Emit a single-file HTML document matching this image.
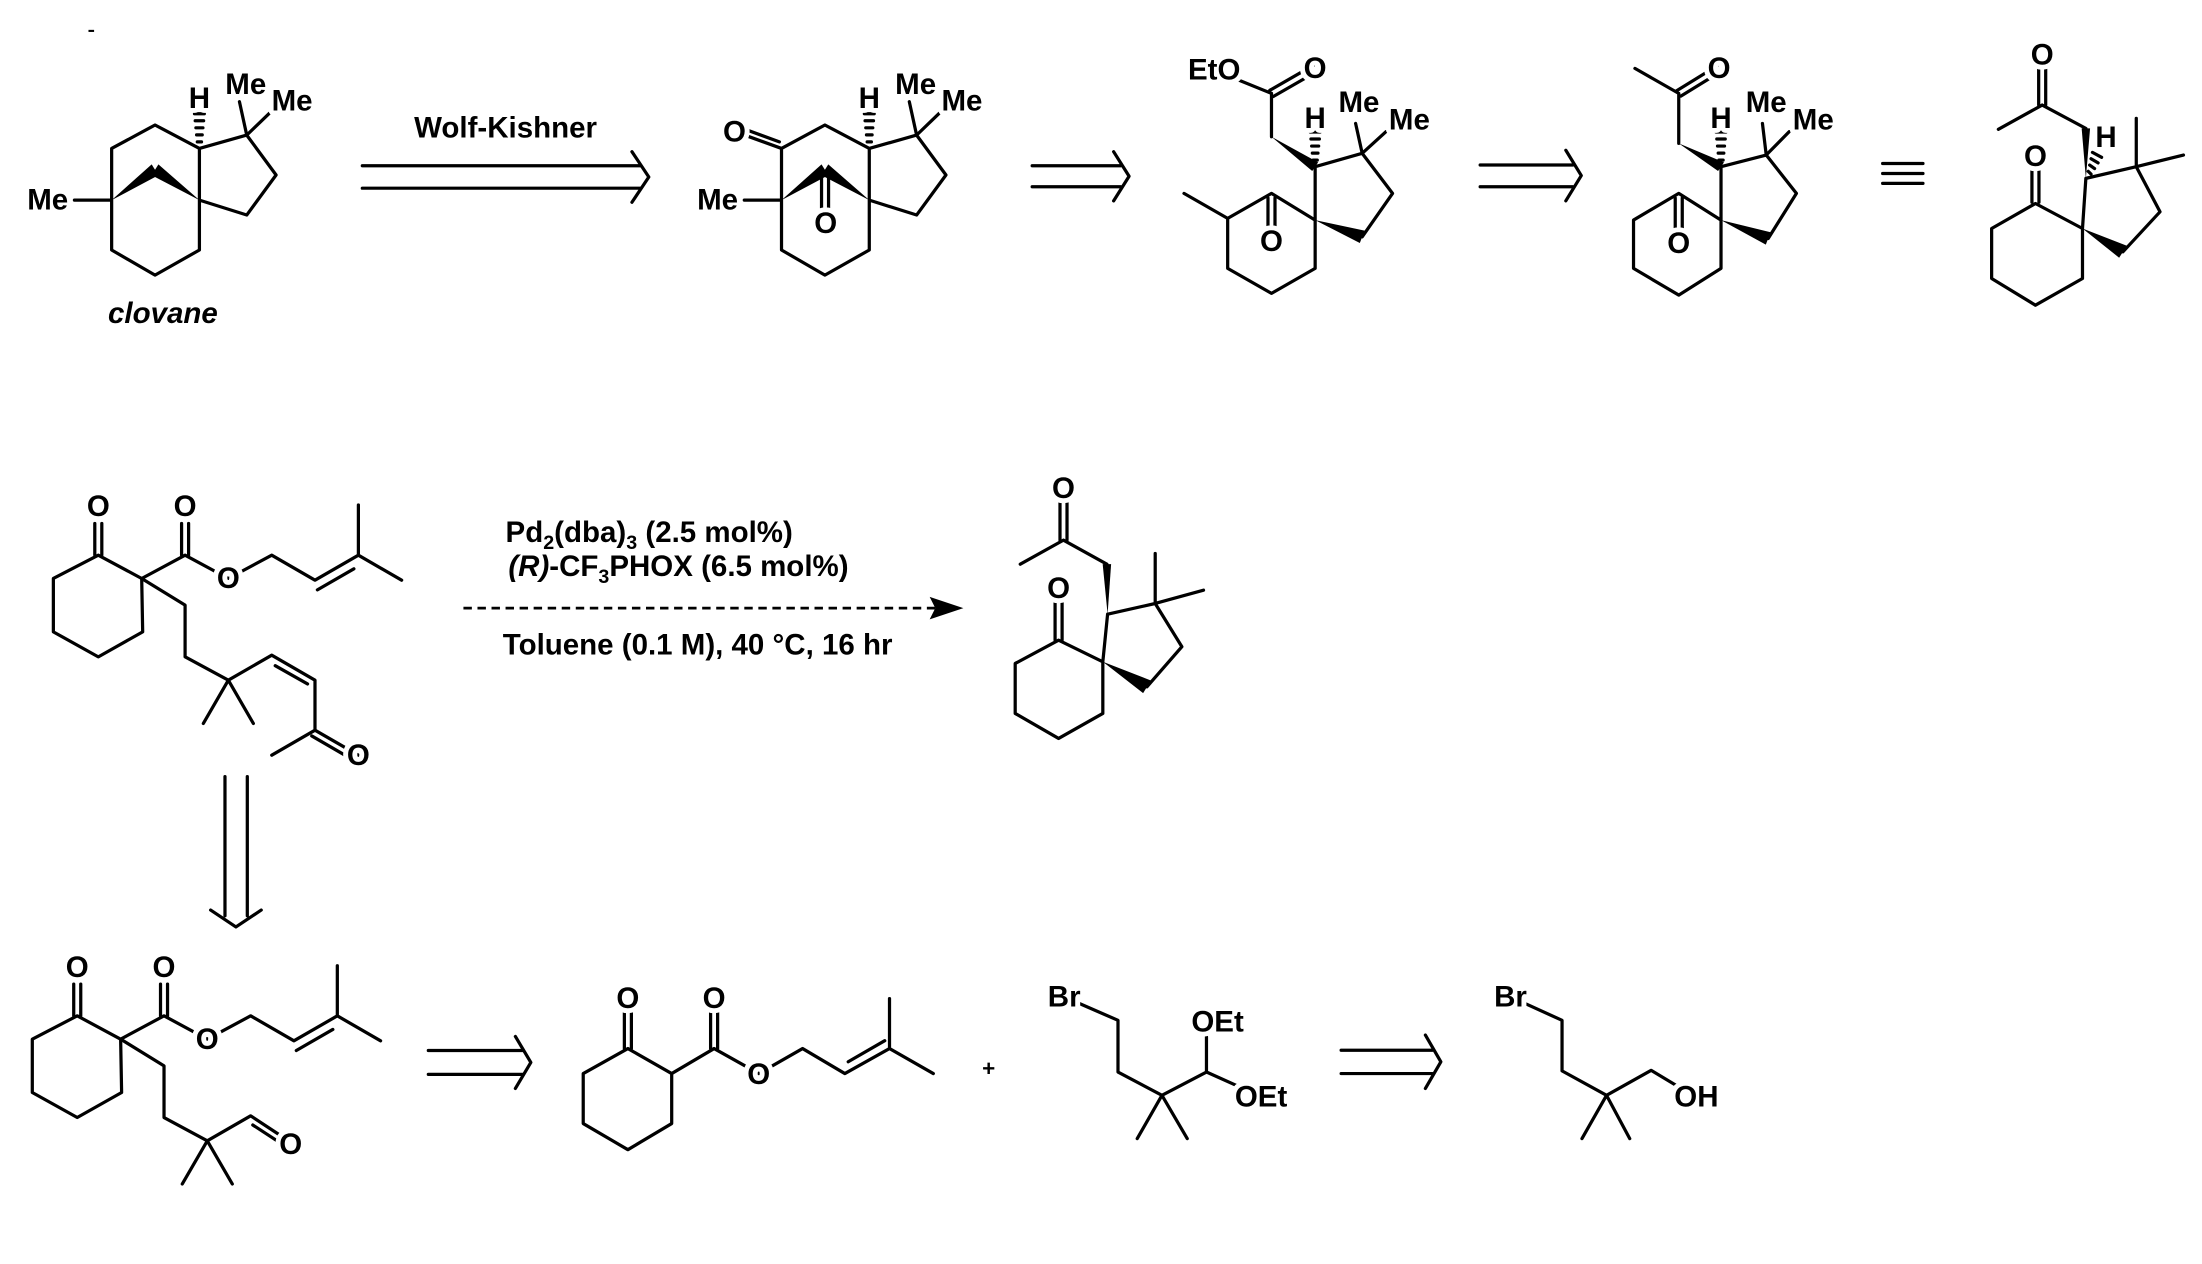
<!DOCTYPE html>
<html><head><meta charset="utf-8"><style>
html,body{margin:0;padding:0;background:#fff;}
svg{display:block;}
.b{stroke:#000;stroke-width:2.3;fill:none;stroke-linecap:round;stroke-linejoin:round;}
.w{fill:#000;stroke:none;}
text{font-family:"Liberation Sans",Arial,sans-serif;font-weight:bold;fill:#000;}
.a{font-size:21px;text-anchor:middle;dominant-baseline:central;stroke:#fff;stroke-width:7px;paint-order:stroke;stroke-linejoin:round;}
.c{font-size:21px;}
</style></head><body>
<svg width="2202" height="1264" viewBox="0 0 1568 900" preserveAspectRatio="none" xmlns="http://www.w3.org/2000/svg">
<rect width="1568" height="900" fill="#fff"/>
<line x1="63" y1="22" x2="67" y2="22" stroke="#000" stroke-width="1.5"/>

<g id="clov">
<path class="b" d="M53,142.5 L79.5,142.5 M79.5,142.5 L79.5,105.7 L110.4,89 L142,105.7 L142,178 L110.4,195.9 L79.5,178 Z M142,105.7 L175.7,96.2 L196.6,124.6 L175.7,153.1 L142,142.5 M175.7,96.2 L170.5,72.4 M175.7,96.2 L191.8,80.7"/>
<polygon class="w" points="79.5,142.5 108,117 112.8,124.8"/>
<polygon class="w" points="142,142.5 112.8,117 108,124.8"/>
<path class="b" stroke-width="1.6" d="M140.5,101 L143.5,101 M140,96 L144,96 M139.5,91 L144.5,91 M139,86 L145,86 M138.5,81 L145.5,81"/>
<text class="a" x="142" y="70">H</text>
<text class="a" x="175" y="60">Me</text>
<text class="a" x="208" y="72">Me</text>
<text class="a" x="34" y="142.5">Me</text>
</g>
<text x="116" y="230" text-anchor="middle" font-size="21" font-style="italic">clovane</text>

<text class="c" x="360" y="98" text-anchor="middle">Wolf-Kishner</text>
<path class="b" d="M258,118 L456,118 M258,134 L456,134 M450,108 L462,126 L450,144"/>

<g transform="translate(477,0)">
<path class="b" d="M53,142.5 L79.5,142.5 M79.5,142.5 L79.5,105.7 L110.4,89 L142,105.7 L142,178 L110.4,195.9 L79.5,178 Z M142,105.7 L175.7,96.2 L196.6,124.6 L175.7,153.1 L142,142.5 M175.7,96.2 L170.5,72.4 M175.7,96.2 L191.8,80.7"/>
<polygon class="w" points="79.5,142.5 108,117 112.8,124.8"/>
<polygon class="w" points="142,142.5 112.8,117 108,124.8"/>
<path class="b" stroke-width="1.6" d="M140.5,101 L143.5,101 M140,96 L144,96 M139.5,91 L144.5,91 M139,86 L145,86 M138.5,81 L145.5,81"/>
<path class="b" d="M79.5,105.7 L50,95 M78,101 L52,91.5 M108,124 L108,150 M113,124 L113,150"/>
<text class="a" x="46" y="94">O</text>
<text class="a" x="111" y="159">O</text>
<text class="a" x="142" y="70">H</text>
<text class="a" x="175" y="60">Me</text>
<text class="a" x="208" y="72">Me</text>
<text class="a" x="34" y="142.5">Me</text>
</g>

<path class="b" d="M735,118 L798,118 M735,133 L798,133 M793,108 L804,125.5 L793,143"/>

<path class="b" d="M864.6,49.9 L905.4,66.5 M904.2,64.3 L935.2,46.5 M906.7,68.7 L937.7,50.9 M905.4,66.5 L905.4,97.4 M936.5,118.7 L970,109.2 L991.6,137.7 L970,168.6 M970,109.2 L965.3,87.9 M970,109.2 L986.9,93.8 M936.5,118.7 L936.5,156.7 L905.4,137.7 L874.2,155.5 L874.2,191.1 L905.4,208.9 L936.5,191.1 L936.5,156.7 M874.2,155.5 L843.1,137.7 M902.9,141 L902.9,163 M907.9,141 L907.9,163"/>
<polygon class="w" points="905.4,97.4 938.6,115.6 934.4,121.8"/>
<polygon class="w" points="936.5,156.7 971.7,164.2 968.3,173"/>
<path class="b" stroke-width="1.6" d="M935,114 L938,114 M934.5,109 L938.5,109 M934,104 L939,104 M933.5,99 L939.5,99 M933,94 L940,94"/>
<text class="a" x="864.6" y="49.9">EtO</text>
<text class="a" x="936.5" y="48.7">O</text>
<text class="a" x="936.5" y="84.3">H</text>
<text class="a" x="967.7" y="73">Me</text>
<text class="a" x="1003.6" y="85.5">Me</text>
<text class="a" x="905.4" y="172">O</text>

<path class="b" d="M1054,117.5 L1120,117.5 M1054,133 L1120,133 M1115,107 L1126,125 L1115,143"/>

<path class="b" d="M1164.2,48.7 L1195.4,66.5 M1193.9,64.6 L1222.5,47 M1196.9,68.4 L1225.5,50.8 M1195.4,66.5 L1195.4,102.1 M1225.5,118.7 L1257.7,110.4 L1279.2,137.7 L1259.1,169.8 M1257.7,110.4 L1255,87.9 M1257.7,110.4 L1274,93.8 M1225.5,118.7 L1225.5,156.7 L1195.4,137.7 L1163.2,156.7 L1163.2,191.1 L1195.4,210.1 L1225.5,191.1 L1225.5,156.7 M1192.9,141 L1192.9,163 M1197.9,141 L1197.9,163"/>
<polygon class="w" points="1195.4,102.1 1227.6,115.6 1223.4,121.8"/>
<polygon class="w" points="1225.5,156.7 1260.8,165.4 1257.4,174.2"/>
<path class="b" stroke-width="1.6" d="M1224,114 L1227,114 M1223.5,109 L1227.5,109 M1223,104 L1228,104 M1222.5,99 L1228.5,99 M1222,94 L1229,94"/>
<text class="a" x="1224.1" y="48.7">O</text>
<text class="a" x="1225.5" y="84.3">H</text>
<text class="a" x="1257.7" y="73">Me</text>
<text class="a" x="1291.2" y="85.5">Me</text>
<text class="a" x="1195.4" y="173.3">O</text>

<path class="b" d="M1340.6,116.4 L1369.3,116.4 M1340.6,123.5 L1369.3,123.5 M1340.6,130.6 L1369.3,130.6" stroke-width="2.6"/>

<path class="b" d="M1451.7,43 L1451.7,74.8 M1456.7,43 L1456.7,74.8 M1454.2,74.8 L1423,92.1 M1454.2,74.8 L1485.3,91.4 M1521.2,118.7 L1538.1,150.8 L1511.7,179.3 M1521.2,118.7 L1521.2,84.3 M1521.2,118.7 L1554.8,110.4 M1485.3,127 L1521.2,118.7 M1485.3,127 L1482.9,162.7 L1449.4,144.9 L1418.2,162.7 L1418.2,198.3 L1449.4,217.3 L1482.9,198.3 L1482.9,162.7 M1446.9,118 L1446.9,144 M1451.9,118 L1451.9,144"/>
<polygon class="w" points="1482.3,91.4 1488.3,91.4 1485.3,127"/>
<polygon class="w" points="1482.9,162.7 1514.5,175 1509,183.5"/>
<path class="b" stroke-width="1.6" d="M1487,122 L1489,124 M1488,117.5 L1491.5,120 M1489,113 L1494,116 M1490,108.5 L1496.5,112"/>
<text class="a" x="1454.2" y="39.2">O</text>
<text class="a" x="1499.7" y="98">H</text>
<text class="a" x="1449.4" y="111.6">O</text>

<g id="ke">
<path class="b" d="M100.9,411.9 L70,395.3 L38,411.9 L38,449.9 L70,467.7 L101.6,449.9 Z M67.5,372.7 L67.5,395.3 M72.5,372.7 L72.5,395.3 M100.9,411.9 L131.8,395.3 L162.6,411.9 L193.5,395.3 L224.3,413.1 L255.2,395.3 L255.2,359.6 M255.2,395.3 L286,413.1 M129.3,372.7 L129.3,395.3 M134.3,372.7 L134.3,395.3 M226,420 L252,405"/>
<text class="a" x="70" y="360.8">O</text>
<text class="a" x="131.8" y="360.8">O</text>
<text class="a" x="162.6" y="412">O</text>
</g>
<path class="b" d="M100.9,411.9 L131.8,430.9 L131.8,467.7 L162.6,484.3 L193.5,466.5 L224.3,484.3 L224.3,519.9 L193.5,537.7 M162.6,484.3 L144.8,515.1 M162.6,484.3 L180.4,515.1 M196,474 L219,487 M224.3,519.9 L255.2,537.7 M222,524 L253,542"/>
<text class="a" x="255.2" y="538">O</text>

<line x1="330" y1="433" x2="668" y2="433" stroke="#000" stroke-width="2" stroke-dasharray="6,4"/>
<polygon class="w" points="686,433 662,425 666,433 662,441"/>
<text class="c" x="360" y="386">Pd<tspan font-size="14" dy="5">2</tspan><tspan dy="-5">(dba)</tspan><tspan font-size="14" dy="5">3</tspan><tspan dy="-5"> (2.5 mol%)</tspan></text>
<text class="c" x="362" y="410"><tspan font-style="italic">(R)</tspan>-CF<tspan font-size="14" dy="5">3</tspan><tspan dy="-5">PHOX (6.5 mol%)</tspan></text>
<text class="c" x="358" y="466">Toluene (0.1 M), 40 °C, 16 hr</text>

<path class="b" d="M754.8,357 L754.8,384.6 M759.8,357 L759.8,384.6 M757.3,384.6 L726.5,401.7 M757.3,384.6 L788.2,401.7 M788.7,437.3 L822.6,429.7 L841.6,460.5 L816.7,489 M822.6,429.7 L822.6,394.1 M822.6,429.7 L857,420.2 M788.7,437.3 L785.3,471.2 L753.8,455.8 L722.9,472.4 L722.9,508 L753.8,525.8 L785.3,508 L785.3,471.2 M751.3,429 L751.3,455.8 M756.3,429 L756.3,455.8"/>
<polygon class="w" points="785.2,401.7 791.2,401.7 788.7,437.3"/>
<polygon class="w" points="785.3,471.2 819.5,484.5 814,493.5"/>
<text class="a" x="757.3" y="347.8">O</text>
<text class="a" x="753.8" y="419">O</text>

<path class="b" d="M160.2,553 L160.2,652 M176.1,553 L176.1,652 M150,648 L168,660 L186,648"/>

<g transform="translate(-15,328)">
<path class="b" d="M100.9,411.9 L70,395.3 L38,411.9 L38,449.9 L70,467.7 L101.6,449.9 Z M67.5,372.7 L67.5,395.3 M72.5,372.7 L72.5,395.3 M100.9,411.9 L131.8,395.3 L162.6,411.9 L193.5,395.3 L224.3,413.1 L255.2,395.3 L255.2,359.6 M255.2,395.3 L286,413.1 M129.3,372.7 L129.3,395.3 M134.3,372.7 L134.3,395.3 M226,420 L252,405"/>
<text class="a" x="70" y="360.8">O</text>
<text class="a" x="131.8" y="360.8">O</text>
<text class="a" x="162.6" y="412">O</text>
</g>
<path class="b" d="M85.9,739.9 L116.8,758.9 L116.8,795.7 L147.6,812.3 L178.5,794.5 L205,812 M147.6,812.3 L129.8,843 M147.6,812.3 L165.4,843 M180,801 L203,816"/>
<text class="a" x="207" y="815">O</text>

<path class="b" d="M305,748 L372,748 M305,765 L372,765 M367,738 L378,756.5 L367,775"/>

<path class="b" d="M447.1,746.6 L415.3,764.4 L415.3,800 L447.1,818.6 L478.3,800 L478.3,764.4 Z M444.6,720 L444.6,746.6 M449.6,720 L449.6,746.6 M478.3,764.4 L508.5,746.6 L540.3,764.4 L571.5,746.6 L601.6,764.4 L633.4,746.6 L633.4,711 M633.4,746.6 L664.6,764.4 M506,720 L506,746.6 M511,720 L511,746.6 M604,756 L630,741"/>
<text class="a" x="447.1" y="711">O</text>
<text class="a" x="508.5" y="711">O</text>
<text class="a" x="540.3" y="765">O</text>
<text x="704" y="766" text-anchor="middle" font-size="16">+</text>

<path class="b" d="M757.8,709.8 L796.1,726.5 L796.1,763.3 L827.4,779.9 L859.1,763.3 L859.1,738.3 M859.1,763.3 L880,772.7 M827.4,779.9 L809.8,810.7 M827.4,779.9 L845.4,810.7"/>
<text class="a" x="757.8" y="709.8">Br</text>
<text class="a" x="867" y="727.6">OEt</text>
<text class="a" x="898" y="781">OEt</text>

<path class="b" d="M955,747.8 L1020,747.8 M955,764.4 L1020,764.4 M1015,737 L1026,756 L1015,775"/>

<path class="b" d="M1075.6,709.8 L1112.3,726.5 L1112.3,762.5 L1144,779.9 L1175.8,762.1 L1193.4,772.7 M1144,779.9 L1126.5,810.7 M1144,779.9 L1160.5,810.7"/>
<text class="a" x="1075.6" y="709.8">Br</text>
<text class="a" x="1208" y="781">OH</text>
</svg>
</body></html>
